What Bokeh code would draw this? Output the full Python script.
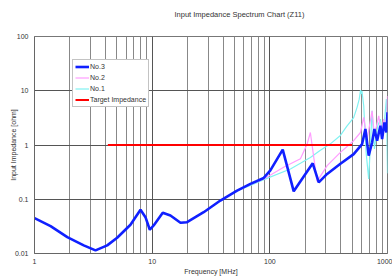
from bokeh.plotting import figure
from bokeh.models import (Range1d, FixedTicker, CustomJSTickFormatter, Legend, LegendItem, Title)
from bokeh.embed import file_html
from bokeh.resources import INLINE

# ---------------- data ----------------
title_text = "Input Impedance Spectrum Chart (Z11)"
x_label = "Frequency [MHz]"
y_label = "Input Impedance [ohm]"

x_ticks = [1, 10, 100, 1000]
x_tick_labels = ["1", "10", "100", "1000"]
x_minor = [m * d for d in (1, 10, 100) for m in range(2, 10)]
y_ticks = [0.01, 0.1, 1, 10, 100]
y_tick_labels = ["0.01", "0.1", "1", "10", "100"]

# common low-frequency part (all three samples overlap)
low_f = [1, 1.37, 1.9, 2.62, 3.3, 4.15, 5.04, 6.54, 7.96, 8.77, 9.55, 10.3,
         12.3, 14.3, 17.4, 19.8, 27.4, 38.0, 52.7]
low_z = [0.0448, 0.0319, 0.020, 0.0141, 0.0114, 0.0141, 0.0195, 0.0338, 0.0638,
         0.0467, 0.0274, 0.0329, 0.0562, 0.0501, 0.0368, 0.0378, 0.0577, 0.0947, 0.1445]

no3_f = low_f + [68.4, 88.8, 101, 128.7, 159.6, 231.5, 260.4, 307, 398, 516, 608,
                 649, 692, 740, 774, 816, 870, 900, 941, 979, 1000]
no3_z = low_z + [0.192, 0.247, 0.34, 0.82, 0.140, 0.459, 0.205, 0.293, 0.45, 0.68, 1.04,
                 1.97, 0.636, 1.12, 1.97, 1.2, 2.26, 1.29, 2.6, 1.70, 4.0]

no2_f = low_f + [68.4, 88.8, 131, 182, 207.5, 221, 252, 307, 398, 516, 589, 628,
                 671, 740, 774, 842, 883, 929, 979, 1000]
no2_z = low_z + [0.188, 0.237, 0.388, 0.56, 1.04, 1.70, 0.214, 0.416, 0.731, 1.20, 1.70, 3.22,
                 1.29, 4.27, 1.48, 3.46, 1.70, 3.0, 1.97, 8.0]

no1_f = low_f + [68.4, 88.8, 149.6, 182, 221, 269, 327, 398, 450, 516, 552, 575, 590,
                 599, 606, 628, 658, 692, 740, 774, 826, 870, 918, 979, 990, 1000]
no1_z = low_z + [0.18, 0.23, 0.362, 0.46, 0.59, 0.80, 1.05, 1.5, 2.2, 3.2, 5.0, 7.0, 10.3,
                 8.8, 10.0, 5.28, 0.73, 0.237, 4.27, 0.845, 2.26, 3.0, 1.48, 7.0, 1.3, 0.3]

target_f = [4.2, 500]
target_z = [1.0, 1.0]

# ---------------- figure ----------------
FONT = "Liberation Sans"
W, H = 392, 277
BL, BR, BT, BB = 34, 5, 36, 24
p = figure(width=W, height=H, x_axis_type="log", y_axis_type="log",
           x_range=Range1d(1, 1000), y_range=Range1d(0.01, 100),
           output_backend="svg", toolbar_location=None,
           min_border_left=BL, min_border_right=BR, min_border_top=BT, min_border_bottom=BB)
p.background_fill_color = "white"
p.border_fill_color = "white"
p.outline_line_color = "#777777"
p.title = None

# spacer next to the frame, then the real title above it
p.add_layout(Title(text=" ", text_font=FONT, text_font_size="7.5px", standoff=5), "above")
p.add_layout(Title(text=title_text, text_font=FONT, text_font_size="7.5px",
                   text_font_style="normal", text_color="#333333",
                   align="left", offset=140, vertical_align="top", standoff=0), "above")

fmt_code = """
for (let i = 0; i < vals.length; i++) {
  if (Math.abs(Math.log10(tick) - Math.log10(vals[i])) < 1e-6) return labs[i];
}
return "";
"""
p.xaxis.ticker = FixedTicker(ticks=x_ticks, minor_ticks=x_minor)
p.xaxis.formatter = CustomJSTickFormatter(args=dict(vals=x_ticks, labs=x_tick_labels), code=fmt_code)
p.yaxis.ticker = FixedTicker(ticks=y_ticks, minor_ticks=[])
p.yaxis.formatter = CustomJSTickFormatter(args=dict(vals=y_ticks, labs=y_tick_labels), code=fmt_code)

p.xgrid.ticker = FixedTicker(ticks=x_ticks, minor_ticks=x_minor)
p.ygrid.ticker = FixedTicker(ticks=y_ticks, minor_ticks=[])
p.xgrid.grid_line_color = "#555555"
p.xgrid.minor_grid_line_color = "#888888"
p.ygrid.grid_line_color = "#555555"
p.xgrid.grid_line_width = 1
p.ygrid.grid_line_width = 1

for ax in (p.xaxis, p.yaxis):
    ax.major_tick_line_color = None
    ax.minor_tick_line_color = None
    ax.major_tick_out = 0
    ax.minor_tick_out = 0
    ax.axis_line_color = "#666666"
    ax.major_label_text_font = FONT
    ax.major_label_text_font_size = "7px"
    ax.major_label_text_color = "#333333"
    ax.axis_label_text_font = FONT
    ax.axis_label_text_font_size = "7px"
    ax.axis_label_text_font_style = "normal"
    ax.axis_label_text_color = "#333333"
p.xaxis.axis_label = x_label
p.yaxis.axis_label = y_label
p.xaxis.major_label_standoff = 5
p.xaxis.axis_label_standoff = 1
p.yaxis.major_label_standoff = 6
p.yaxis.axis_label_standoff = -5

r1 = p.line(no1_f, no1_z, line_color="#80f2f2", line_width=1.2)
r2 = p.line(no2_f, no2_z, line_color="#ff9cff", line_width=1.2)
r3 = p.line(no3_f, no3_z, line_color="#1020ff", line_width=2.6)
rt = p.line(target_f, target_z, line_color="#ff0000", line_width=2)

legend = Legend(items=[LegendItem(label="No.3", renderers=[r3]),
                       LegendItem(label="No.2", renderers=[r2]),
                       LegendItem(label="No.1", renderers=[r1]),
                       LegendItem(label="Target Impedance", renderers=[rt])],
                location=(38, 146))
legend.border_line_color = "#888888"
legend.border_line_width = 1
legend.background_fill_color = "white"
legend.background_fill_alpha = 1
legend.label_text_font = FONT
legend.label_text_font_size = "7px"
legend.label_text_color = "#333333"
legend.glyph_width = 14
legend.glyph_height = 9
legend.label_height = 9
legend.label_standoff = 1
legend.spacing = 2
legend.padding = 2
legend.margin = 0
p.add_layout(legend)

open("out.html", "w").write(file_html(p, INLINE))
